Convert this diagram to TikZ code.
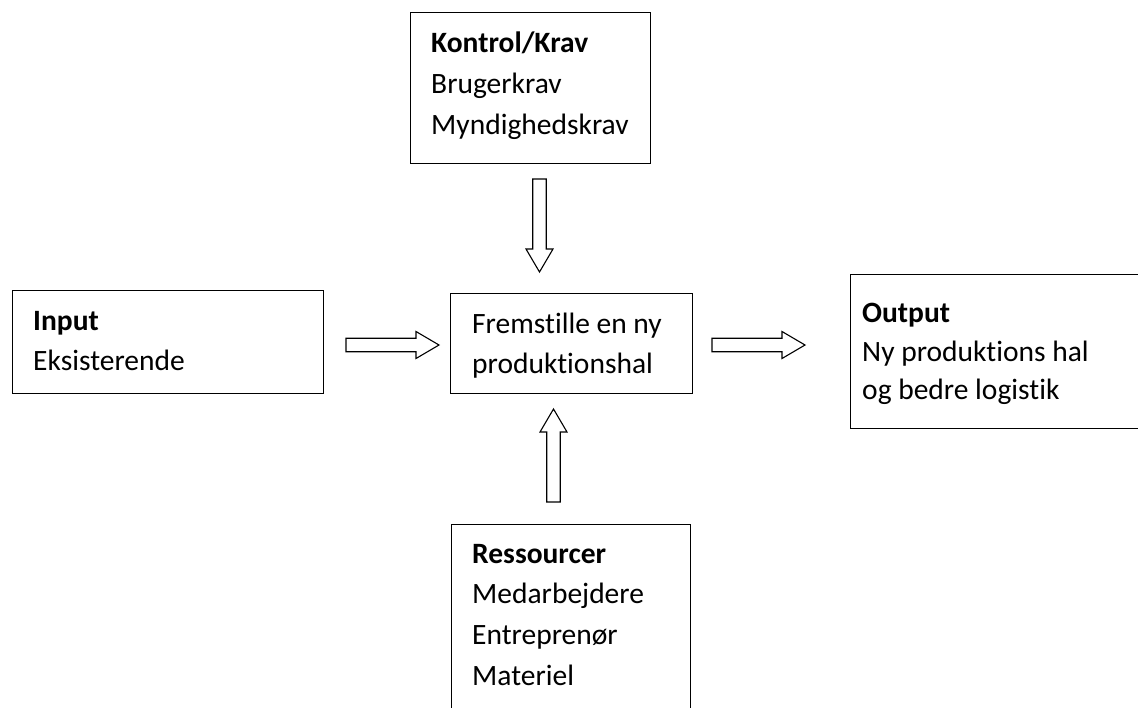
\documentclass[tikz,border=0pt]{standalone}
\usepackage{fontspec}
\setmainfont{Carlito}[Ligatures={NoCommon}]
\tikzset{
  box/.style={draw, line width=1.4pt, inner sep=0pt, anchor=north west},
  txt/.style={anchor=base west, inner sep=0pt, font=\fontsize{29.5}{41}\selectfont},
  barrow/.style={draw, line width=1.1pt, fill=white, line join=miter},
  hollow/.pic={\path[barrow] (0,-6.75) -- (70,-6.75) -- (70,-13.5) -- (93,0) -- (70,13.5) -- (70,6.75) -- (0,6.75) -- cycle;}
}
\begin{document}
\begin{tikzpicture}[x=1pt,y=-1pt]
\clip (0,0) rectangle (1138,707);
\useasboundingbox (0,0) rectangle (1138,707);
\fill[white] (0,0) rectangle (1138,707);

% boxes
\node[box, minimum width=240pt, minimum height=151pt] (ctrl) at (410,12) {};
\node[box, minimum width=311pt, minimum height=103pt] (inp) at (12,290) {};
\node[box, minimum width=242pt, minimum height=100pt] (proc) at (450,293) {};
\node[box, minimum width=320pt, minimum height=154pt] (outp) at (850,274) {};
\node[box, minimum width=239pt, minimum height=220pt] (res) at (451,524) {};

% texts
\node[txt] (ctrl1) at (431,52) {\bfseries Kontrol/Krav};
\node[txt] (ctrl2) at (431,93) {Brugerkrav};
\node[txt] (ctrl3) at (431,134) {Myndighedskrav};

\node[txt] (inp1) at (33,330) {\bfseries Input};
\node[txt] (inp2) at (33,370) {Eksisterende};

\node[txt] (proc1) at (472,333) {Fremstille en ny};
\node[txt] (proc2) at (472,373) {produktionshal};

\node[txt] (outp1) at (862,322) {\bfseries Output};
\node[txt] (outp2) at (862,361) {Ny produktions hal};
\node[txt] (outp3) at (862,399) {og bedre logistik};

\node[txt] (res1) at (472,563) {\bfseries Ressourcer};
\node[txt] (res2) at (472,603) {Medarbejdere};
\node[txt] (res3) at (472,644) {Entreprenør};
\node[txt] (res4) at (472,685) {Materiel};

% block arrows
\coordinate (aIn) at (346,345);
\coordinate (aOut) at (712,345);
\coordinate (aDown) at (539.5,179);
\coordinate (aUp) at (553.5,502);
\pic at (aIn) {hollow};
\pic at (aOut) {hollow};
\pic[rotate=-90] at (aDown) {hollow};
\pic[rotate=90] at (aUp) {hollow};
\end{tikzpicture}
\end{document}
